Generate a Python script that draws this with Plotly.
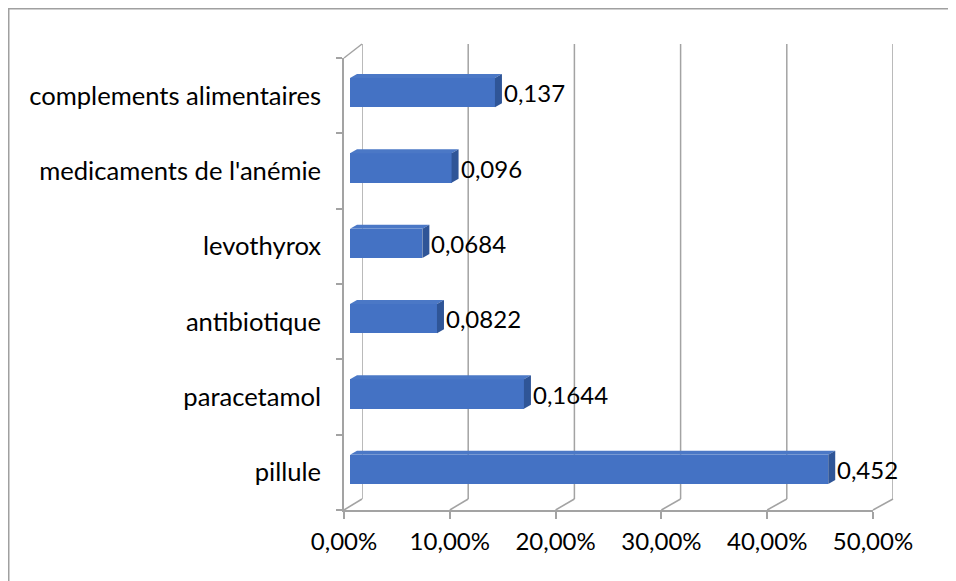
import plotly.graph_objects as go

# data (bottom to top, as drawn)
categories = ["pillule", "paracetamol", "antibiotique", "levothyrox",
              "medicaments de l'anémie", "complements alimentaires"]
values = [0.452, 0.1644, 0.0822, 0.0684, 0.096, 0.137]
tick_vals = [0, 0.1, 0.2, 0.3, 0.4, 0.5]
tick_text = ["0,00%", "10,00%", "20,00%", "30,00%", "40,00%", "50,00%"]

# the page body has an 8px margin, so the figure starts at screen (8, 8)
OFF = 8
W, H = 956 - OFF, 581 - OFF
# paper area in screen pixels
PL, PR, PT, PB = 344, 893, 44, 510
FONT = "Lato"
GRID = "#a3a3a3"
FRONT, TOP, SIDE = "#4472C4", "#4b78c6", "#2f5597"


def px_x(px):
    return (px - PL) / (PR - PL)


def px_y(py):
    return (PB - py) / (PB - PT)


# front floor/axis, back wall, and bar (mid depth) planes, screen pixels
FX = (344, 873)
BX = (362, 893)
BAR_X = (350, 879)
FY = (510, 58)
BY = (499, 44)
BAR_Y = (507, 55)

pos = list(range(len(categories)))
bar_w = 0.39
cat_px = (BAR_Y[0] - BAR_Y[1]) / len(categories)
half_h = bar_w * cat_px / 2
dx_px, dy_px = 7, 4
dx_data = dx_px * 0.5 / (BAR_X[1] - BAR_X[0])

fig = go.Figure()

# helper traces so the front and back axes are drawn
fig.add_trace(go.Scatter(x=[0], y=[0], xaxis="x", yaxis="y", mode="markers",
                         marker=dict(opacity=0), hoverinfo="skip", showlegend=False))
fig.add_trace(go.Scatter(x=[0], y=[0], xaxis="x2", yaxis="y2", mode="markers",
                         marker=dict(opacity=0), hoverinfo="skip", showlegend=False))

fig.add_trace(go.Bar(
    x=values, y=pos, orientation="h", width=bar_w,
    xaxis="x3", yaxis="y3",
    marker=dict(color=FRONT, line=dict(width=0)),
    showlegend=False, hoverinfo="skip",
))

shapes = []
# 3D faces of bars
for v, p in zip(values, pos):
    shapes.append(dict(
        type="path", xref="x3", yref="y3", ysizemode="pixel", yanchor=p,
        path=f"M0,{half_h} L{v},{half_h} L{v + dx_data},{half_h + dy_px} L{dx_data},{half_h + dy_px} Z",
        fillcolor=TOP, line=dict(width=0), layer="above",
    ))
    shapes.append(dict(
        type="path", xref="x3", yref="y3", xsizemode="pixel", xanchor=v,
        ysizemode="pixel", yanchor=p,
        path=f"M0,{-half_h} L0,{half_h} L{dx_px},{half_h + dy_px} L{dx_px},{-half_h + dy_px} Z",
        fillcolor=SIDE, line=dict(width=0), layer="above",
    ))

for t in tick_vals:
    # back wall gridline
    shapes.append(dict(type="line", xref="x2", yref="y2 domain",
                       x0=t, x1=t, y0=0, y1=1,
                       line=dict(color=GRID, width=1.5), layer="below"))
    # floor diagonal joining front tick to back gridline
    fx = FX[0] + t / 0.5 * (FX[1] - FX[0])
    bx = BX[0] + t / 0.5 * (BX[1] - BX[0])
    shapes.append(dict(type="line", xref="paper", yref="paper",
                       x0=px_x(fx), y0=px_y(FY[0]), x1=px_x(bx), y1=px_y(BY[0]),
                       line=dict(color=GRID, width=1.5), layer="below"))
# left wall top edge
shapes.append(dict(type="line", xref="paper", yref="paper",
                   x0=px_x(FX[0]), y0=px_y(FY[1]), x1=px_x(BX[0]), y1=px_y(BY[1]),
                   line=dict(color=GRID, width=1.5), layer="below"))
# chart border
shapes.append(dict(type="rect", xref="paper", yref="paper",
                   x0=px_x(OFF + 0.75), y0=px_y(1000), x1=px_x(1100), y1=px_y(OFF + 0.75),
                   line=dict(color="#a0a0a0", width=1.5), fillcolor="rgba(0,0,0,0)"))

annotations = [
    dict(x=v, y=p, xref="x3", yref="y3", text=str(v).replace(".", ","),
         showarrow=False, xanchor="left", yanchor="middle", xshift=dx_px,
         font=dict(family=FONT, size=24, color="black"))
    for v, p in zip(values, pos)
]

fig.update_layout(
    width=W, height=H,
    margin=dict(l=PL - OFF, r=W - (PR - OFF), t=PT - OFF, b=H - (PB - OFF), pad=0),
    paper_bgcolor="white", plot_bgcolor="rgba(0,0,0,0)",
    font=dict(family=FONT, size=24, color="black"),
    shapes=shapes, annotations=annotations,
    bargap=0,
    xaxis=dict(domain=[px_x(FX[0]), px_x(FX[1])], range=[0, 0.5], anchor="y",
               tickvals=tick_vals, ticktext=tick_text, showgrid=False, zeroline=False,
               showline=True, linecolor=GRID, linewidth=1.5,
               ticks="outside", ticklen=7, tickcolor=GRID, tickwidth=1.5,
               ticklabelstandoff=2, fixedrange=True),
    yaxis=dict(domain=[px_y(FY[0]), px_y(FY[1])], range=[-0.5, len(categories) - 0.5],
               anchor="x", tickvals=pos, ticktext=categories, ticks="",
               tickfont=dict(family=FONT, size=25.6, color="black"),
               showgrid=False, zeroline=False, showline=True, linecolor=GRID, linewidth=1.5,
               ticklabelstandoff=16,
               minor=dict(tickvals=[p - 0.5 for p in pos] + [len(categories) - 0.5],
                          ticks="outside", ticklen=6, tickcolor=GRID, tickwidth=1.5,
                          showgrid=False)),
    xaxis2=dict(domain=[px_x(BX[0]), px_x(BX[1])], range=[0, 0.5], anchor="y2",
                visible=False),
    yaxis2=dict(domain=[px_y(BY[0]), px_y(BY[1])], range=[0, 1], anchor="x2",
                visible=False),
    xaxis3=dict(domain=[px_x(BAR_X[0]), px_x(BAR_X[1])], range=[0, 0.5], anchor="y3",
                visible=False),
    yaxis3=dict(domain=[px_y(BAR_Y[0]), px_y(BAR_Y[1])], range=[-0.5, len(categories) - 0.5],
                anchor="x3", visible=False),
)

fig.write_html("out.html")
